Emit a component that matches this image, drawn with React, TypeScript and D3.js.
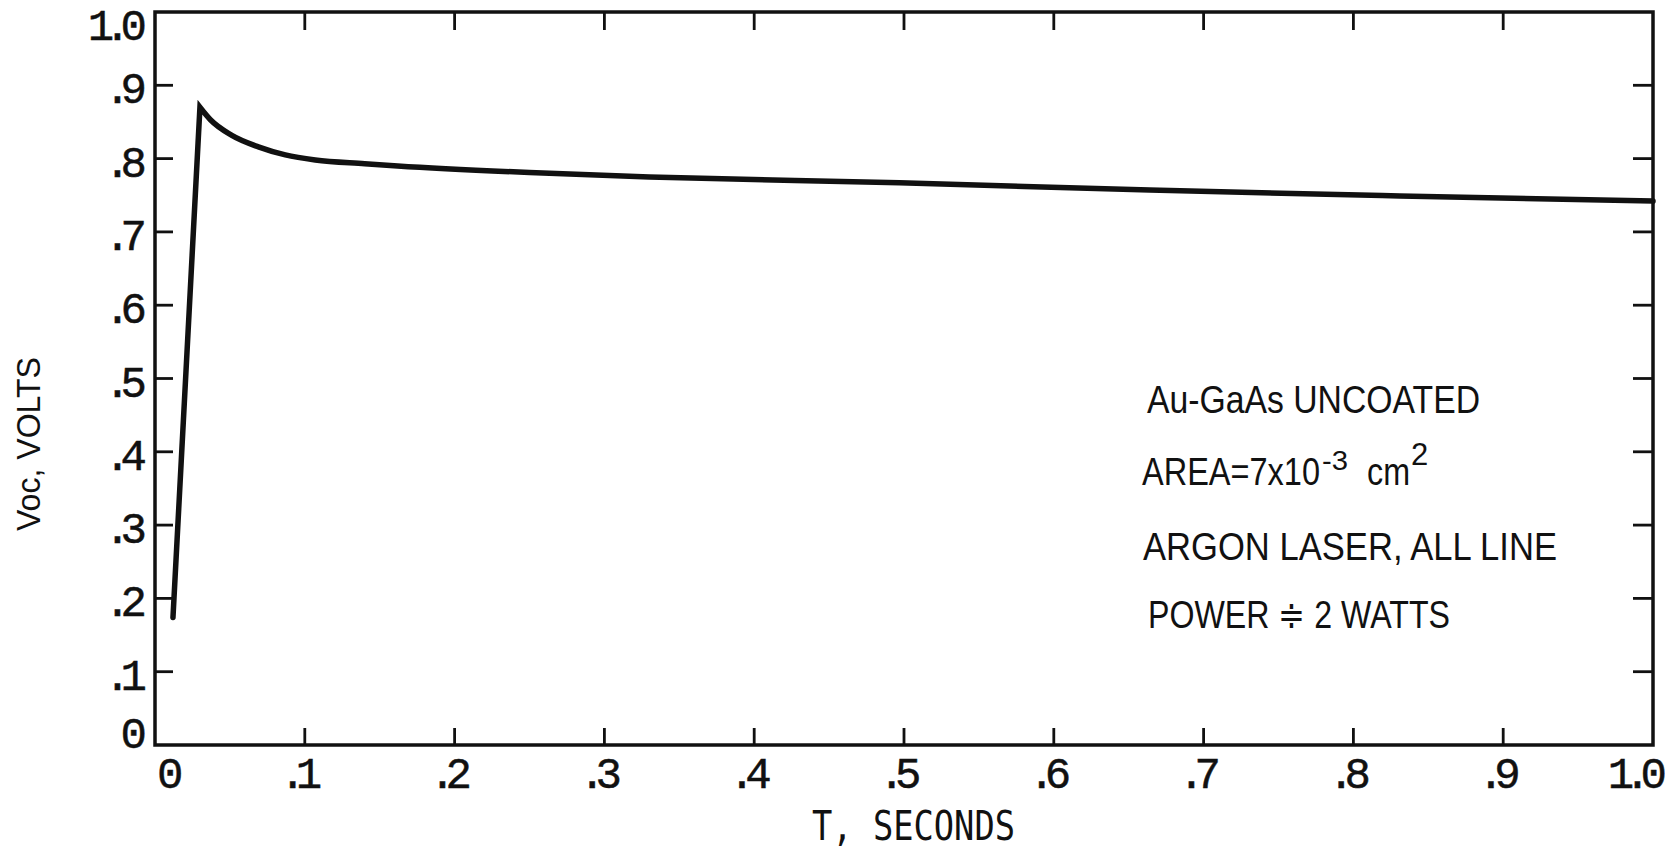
import React, { useEffect, useRef } from "react";
import * as d3 from "d3";

// Voc transient (rise, then slow decay from the peak)
const timeSec = [0.012, 0.0195, 0.03, 0.037, 0.051, 0.069, 0.087, 0.107, 0.14, 0.162, 0.25, 0.33, 0.497, 0.664, 0.831, 1.0];
const vocVolts = [0.174, 0.464, 0.87, 0.853, 0.832, 0.816, 0.805, 0.798, 0.793, 0.79, 0.781, 0.775, 0.767, 0.757, 0.749, 0.742];
const peakIndex = 2;

const xTickValues = [0, 0.1, 0.2, 0.3, 0.4, 0.5, 0.6, 0.7, 0.8, 0.9, 1.0];
const xTickLabels = ["0", ".1", ".2", ".3", ".4", ".5", ".6", ".7", ".8", ".9", "1.0"];
const yTickValues = [0, 0.1, 0.2, 0.3, 0.4, 0.5, 0.6, 0.7, 0.8, 0.9, 1.0];
const yTickLabels = ["0", ".1", ".2", ".3", ".4", ".5", ".6", ".7", ".8", ".9", "1.0"];

export default function App() {
  const ref = useRef<SVGSVGElement>(null);

  useEffect(() => {
    const svg = d3.select(ref.current);
    svg.selectAll("*").remove();
    const width = 1665,
      height = 853,
      ink = "#111";

    const x = d3.scaleLinear().domain([0, 1]).range([155, 1653]);
    const y = d3.scaleLinear().domain([0, 1]).range([745, 12]);

    svg.append("rect").attr("width", width).attr("height", height).attr("fill", "#fff");

    // frame
    svg
      .append("rect")
      .attr("x", x(0))
      .attr("y", y(1))
      .attr("width", x(1) - x(0))
      .attr("height", y(0) - y(1))
      .attr("fill", "none")
      .attr("stroke", ink)
      .attr("stroke-width", 3.5);

    // inner ticks on all four sides
    const ticks = svg.append("g").attr("stroke", ink).attr("stroke-width", 2.8);
    xTickValues.slice(1, -1).forEach((v) => {
      ticks.append("line").attr("x1", x(v)).attr("x2", x(v)).attr("y1", y(0)).attr("y2", y(0) - 17);
      ticks.append("line").attr("x1", x(v)).attr("x2", x(v)).attr("y1", y(1)).attr("y2", y(1) + 18);
    });
    yTickValues.slice(1, -1).forEach((v) => {
      ticks.append("line").attr("x1", x(0)).attr("x2", x(0) + 18).attr("y1", y(v)).attr("y2", y(v));
      ticks.append("line").attr("x1", x(1)).attr("x2", x(1) - 20).attr("y1", y(v)).attr("y2", y(v));
    });

    // tick labels
    const tickFont = (sel: any) =>
      sel
        .attr("font-family", "'Liberation Mono', monospace")
        .attr("font-size", 44)
        .attr("letter-spacing", -10)
        .attr("fill", ink)
        .attr("stroke", ink)
        .attr("stroke-width", 0.5);

    xTickValues.forEach((v, i) => {
      const last = i === xTickValues.length - 1;
      svg
        .append("text")
        .call(tickFont)
        .attr("x", i === 0 ? x(0) + 2 : last ? x(1) + 4 : x(v) - 9)
        .attr("y", 788)
        .attr("text-anchor", i === 0 ? "start" : last ? "end" : "middle")
        .text(xTickLabels[i]);
    });

    yTickValues.forEach((v, i) => {
      svg
        .append("text")
        .call(tickFont)
        .attr("x", 137)
        .attr("y", v === 1 ? y(v) + 28 : v === 0 ? y(v) + 3 : y(v) + 18)
        .attr("text-anchor", "end")
        .text(yTickLabels[i]);
    });

    // axis titles
    svg
      .append("text")
      .attr("x", 812)
      .attr("y", 840)
      .attr("font-family", "'DejaVu Sans Mono', monospace")
      .attr("font-size", 41)
      .attr("textLength", 203)
      .attr("lengthAdjust", "spacingAndGlyphs")
      .attr("fill", ink)
      .text("T, SECONDS");

    svg
      .append("text")
      .attr("transform", "translate(40,357) rotate(-90)")
      .attr("x", -174)
      .attr("y", 0)
      .attr("font-family", "'Liberation Sans', sans-serif")
      .attr("font-size", 33)
      .attr("textLength", 174)
      .attr("lengthAdjust", "spacingAndGlyphs")
      .attr("fill", ink)
      .text("Voc, VOLTS");

    // curve: straight rise to a sharp peak, smooth decay afterwards
    const pts = timeSec.map((t, i) => [t, vocVolts[i]] as [number, number]);
    const riseLine = d3
      .line<[number, number]>()
      .x((d) => x(d[0]))
      .y((d) => y(d[1]));
    const decayLine = d3
      .line<[number, number]>()
      .x((d) => x(d[0]))
      .y((d) => y(d[1]))
      .curve(d3.curveMonotoneX);
    const pathD =
      riseLine(pts.slice(0, peakIndex + 1)) +
      (decayLine(pts.slice(peakIndex)) as string).replace(/^M/, "L");

    svg
      .append("path")
      .attr("d", pathD)
      .attr("fill", "none")
      .attr("stroke", ink)
      .attr("stroke-width", 5.5)
      .attr("stroke-linejoin", "miter")
      .attr("stroke-miterlimit", 10)
      .attr("stroke-linecap", "round");

    // annotation block
    const note = svg
      .append("g")
      .attr("font-family", "'Liberation Sans', sans-serif")
      .attr("font-size", 38)
      .attr("fill", ink);

    const noteLine = (txt: string, x0: number, base: number, len: number) =>
      note
        .append("text")
        .attr("x", x0)
        .attr("y", base)
        .attr("textLength", len)
        .attr("lengthAdjust", "spacingAndGlyphs")
        .text(txt);

    noteLine("Au-GaAs UNCOATED", 1147, 413, 333);

    const area = note.append("text").attr("y", 485);
    area
      .append("tspan")
      .attr("x", 1142)
      .attr("textLength", 178)
      .attr("lengthAdjust", "spacingAndGlyphs")
      .text("AREA=7x10");
    area
      .append("tspan")
      .attr("x", 1322)
      .attr("y", 470)
      .attr("font-size", 28)
      .attr("textLength", 26)
      .attr("lengthAdjust", "spacingAndGlyphs")
      .text("-3");
    area
      .append("tspan")
      .attr("x", 1367)
      .attr("y", 485)
      .attr("textLength", 43)
      .attr("lengthAdjust", "spacingAndGlyphs")
      .text("cm");
    area
      .append("tspan")
      .attr("x", 1411)
      .attr("y", 465)
      .attr("font-size", 31)
      .text("2");

    noteLine("ARGON LASER,  ALL LINE", 1143, 560, 414);
    noteLine("POWER \u2251 2 WATTS", 1148, 628, 302);
  }, []);

  return (
    <svg
      ref={ref}
      width={1665}
      height={853}
      style={{ position: "absolute", left: 0, top: 0 }}
    />
  );
}
